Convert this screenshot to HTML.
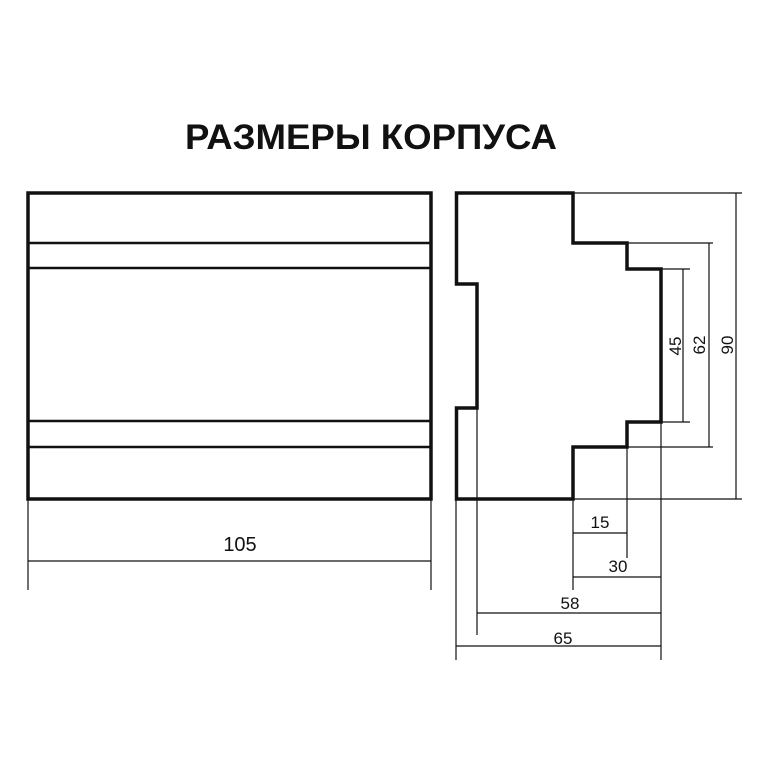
<!DOCTYPE html>
<html><head><meta charset="utf-8"><style>
html,body{margin:0;padding:0;background:#fff;}
svg{display:block;}
text{font-family:"Liberation Sans",sans-serif;fill:#111;}
</style></head><body>
<svg width="768" height="768" viewBox="0 0 768 768" xmlns="http://www.w3.org/2000/svg">
<text x="185" y="149" font-size="35" font-weight="bold" textLength="372" lengthAdjust="spacingAndGlyphs">РАЗМЕРЫ КОРПУСА</text>
<g stroke="#111" fill="none">
<rect x="28" y="193" width="403" height="306" stroke-width="3.5"/>
<g stroke-width="2.5">
<line x1="28" y1="243" x2="431" y2="243"/>
<line x1="28" y1="268" x2="431" y2="268"/>
<line x1="28" y1="421" x2="431" y2="421"/>
<line x1="28" y1="447" x2="431" y2="447"/>
</g>
<g stroke-width="1.2">
<line x1="28" y1="499" x2="28" y2="590"/>
<line x1="431" y1="499" x2="431" y2="590"/>
<line x1="28" y1="561" x2="431" y2="561"/>
</g>
<path d="M456.5 193 H573 V243 H627 V269 H661 V422 H627 V447 H573 V499 H456.5 V408 H477 V284 H456.5 Z" stroke-width="3.5" stroke-linejoin="miter"/>
<g stroke-width="1.2">
<line x1="573" y1="193" x2="742" y2="193"/>
<line x1="456" y1="499" x2="742" y2="499"/>
<line x1="736" y1="193" x2="736" y2="499"/>
<line x1="627" y1="243" x2="713" y2="243"/>
<line x1="573" y1="447" x2="713" y2="447"/>
<line x1="709" y1="243" x2="709" y2="447"/>
<line x1="661" y1="269" x2="690" y2="269"/>
<line x1="661" y1="422" x2="690" y2="422"/>
<line x1="683" y1="269" x2="683" y2="422"/>
<line x1="456" y1="499" x2="456" y2="660"/>
<line x1="477" y1="408" x2="477" y2="635"/>
<line x1="573" y1="499" x2="573" y2="590"/>
<line x1="627" y1="447" x2="627" y2="558"/>
<line x1="661" y1="422" x2="661" y2="660"/>
<line x1="573" y1="533" x2="627" y2="533"/>
<line x1="573" y1="577" x2="661" y2="577"/>
<line x1="477" y1="613" x2="661" y2="613"/>
<line x1="456" y1="646" x2="661" y2="646"/>
</g>
</g>
<text x="240" y="551" font-size="20" text-anchor="middle">105</text>
<g font-size="17" text-anchor="middle">
<text x="600" y="528">15</text>
<text x="618" y="572">30</text>
<text x="570" y="609">58</text>
<text x="563" y="644">65</text>
<text transform="translate(681,346) rotate(-90)">45</text>
<text transform="translate(705,345) rotate(-90)">62</text>
<text transform="translate(733,345) rotate(-90)">90</text>
</g>
</svg>
</body></html>
